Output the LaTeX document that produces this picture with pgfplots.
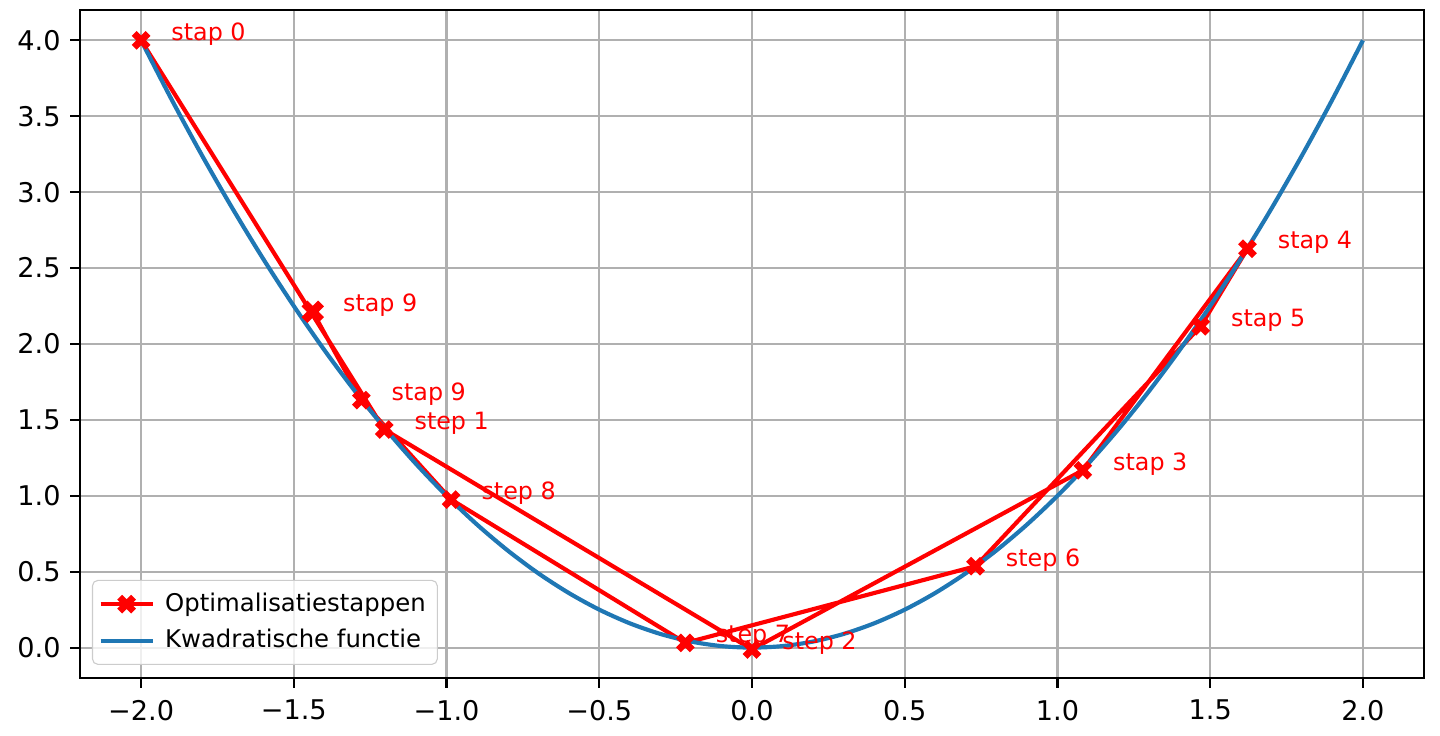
\documentclass[border=0pt]{standalone}
\usepackage{fontspec}
\setmainfont{DejaVu Sans}
\usepackage{pgfplots}
\pgfplotsset{compat=1.18}
\definecolor{mplblue}{HTML}{1F77B4}
\definecolor{gridgray}{HTML}{B0B0B0}
\definecolor{legedge}{HTML}{CCCCCC}
\pgfdeclareplotmark{Xf}{%
  \pgfsetlinewidth{1.0\pgfplotmarksize}%
  \pgfsetbuttcap
  \pgfpathmoveto{\pgfqpoint{-\pgfplotmarksize}{-\pgfplotmarksize}}%
  \pgfpathlineto{\pgfqpoint{\pgfplotmarksize}{\pgfplotmarksize}}%
  \pgfpathmoveto{\pgfqpoint{-\pgfplotmarksize}{\pgfplotmarksize}}%
  \pgfpathlineto{\pgfqpoint{\pgfplotmarksize}{-\pgfplotmarksize}}%
  \pgfusepathqstroke
}
\begin{document}
\begin{tikzpicture}
\begin{axis}[
  scale only axis,
  width=6.72in, height=3.34in,
  xmin=-2.2, xmax=2.2, ymin=-0.2, ymax=4.2,
  xtick={-2,-1.5,-1,-0.5,0,0.5,1,1.5,2},
  xticklabels={−2.0,−1.5,−1.0,−0.5,0.0,0.5,1.0,1.5,2.0},
  ytick={0,0.5,1,1.5,2,2.5,3,3.5,4},
  yticklabels={0.0,0.5,1.0,1.5,2.0,2.5,3.0,3.5,4.0},
  tick align=outside, tick pos=left,
  major tick length=3.5pt,
  every tick/.style={black, line width=0.8pt},
  axis line style={line width=0.8pt},
  grid=major,
  major grid style={gridgray, line width=0.8pt},
  tick label style={font=\fontsize{9.8}{12}\selectfont},
  xticklabel style={yshift=-1pt},
  legend cell align=left,
  legend style={at={(0,0)}, anchor=south west, xshift=4.3pt, yshift=4.7pt,
    draw=legedge, rounded corners=2pt, fill=white, fill opacity=0.8, text opacity=1,
    font=\fontsize{8.8}{10.5}\selectfont, inner xsep=2.2pt, inner ysep=2.5pt,
    row sep=1pt, column sep=1.8pt},
  legend image code/.code={\draw[mark repeat=2,mark phase=2] plot coordinates {(0cm,0cm)(0.33cm,0cm)(0.66cm,0cm)};},
]
\addplot[red, line width=1.5pt, mark=Xf, mark size=2.5pt,
  point meta=explicit symbolic,
  nodes near coords={\pgfplotspointmeta},
  every node near coord/.style={anchor=base west, xshift=6.4pt, yshift=0pt, text=red, font=\fontsize{8.6}{10}\selectfont},
] coordinates {
  (-2.000,4.000) [stap 0]
  (-1.204,1.437) [step 1]
  (0.000,-0.012) [step 2]
  (1.083,1.168) [stap 3]
  (1.622,2.627) [stap 4]
  (1.469,2.117) [stap 5]
  (0.732,0.536) [step 6]
  (-0.218,0.031) [step 7]
  (-0.985,0.975) [step 8]
  (-1.279,1.630) [stap 9]
  (-1.438,2.212) [stap 9]
};
\addlegendentry{Optimalisatiestappen}
\addplot[mplblue, line width=1.5pt, smooth] coordinates {
  (-2.0,4.00) (-1.9,3.61) (-1.8,3.24) (-1.7,2.89) (-1.6,2.56) (-1.5,2.25)
  (-1.4,1.96) (-1.3,1.69) (-1.2,1.44) (-1.1,1.21) (-1.0,1.00) (-0.9,0.81)
  (-0.8,0.64) (-0.7,0.49) (-0.6,0.36) (-0.5,0.25) (-0.4,0.16) (-0.3,0.09)
  (-0.2,0.04) (-0.1,0.01) (0.0,0.00) (0.1,0.01) (0.2,0.04) (0.3,0.09)
  (0.4,0.16) (0.5,0.25) (0.6,0.36) (0.7,0.49) (0.8,0.64) (0.9,0.81)
  (1.0,1.00) (1.1,1.21) (1.2,1.44) (1.3,1.69) (1.4,1.96) (1.5,2.25)
  (1.6,2.56) (1.7,2.89) (1.8,3.24) (1.9,3.61) (2.0,4.00)
};
\addlegendentry{Kwadratische functie}
\addplot[red, only marks, mark=Xf, mark size=3.0pt, forget plot] coordinates {(-1.438,2.212)};
\coordinate (bl) at (rel axis cs:0,0);
\coordinate (tr) at (rel axis cs:1,1);
\end{axis}
\pgfresetboundingbox
\path ([xshift=-0.4in,yshift=-0.29in]bl) rectangle ([xshift=0.08in,yshift=0.05in]tr);
\end{tikzpicture}
\end{document}
